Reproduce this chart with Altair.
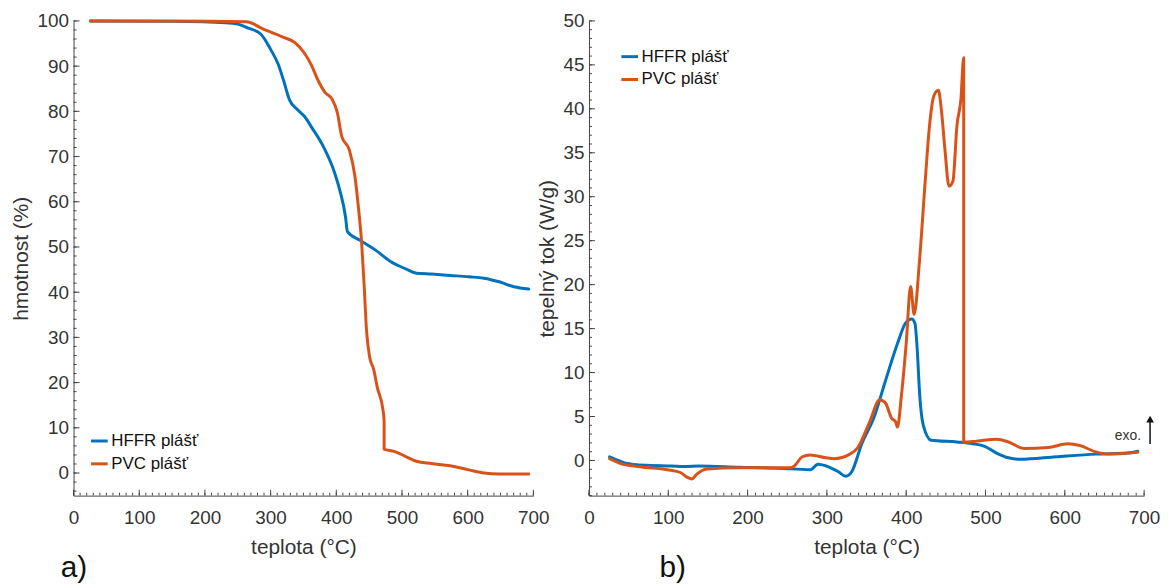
import altair as alt
import pandas as pd

FONT = "Liberation Sans"
BLUE = "#0072BD"
ORANGE = "#D95319"
AXC = "#444444"
TXT = "#333333"

series_names = ["HFFR plášť", "PVC plášť"]

# ---- a) TGA: mass (%) vs temperature ----
tga_hffr_t = [25.6, 150, 231.8, 250, 266, 285, 300, 311.6, 320, 328.6, 340, 351.4, 362.8, 380, 397,
              405.6, 414, 417, 437, 459.7, 482.5, 505, 522, 545, 573.6, 602, 625, 648, 670.4, 693]
tga_hffr_m = [100, 99.9, 99.6, 99.3, 98.4, 97.1, 93.7, 90.4, 86.7, 82.6, 80.5, 78.9, 76.4, 72.3, 66.6,
              62.4, 56.7, 53.4, 51.4, 49.3, 46.8, 45.2, 44.2, 44.0, 43.7, 43.4, 43.1, 42.3, 41.2, 40.7]
tga_pvc_t = [25.6, 150, 263, 288.8, 317, 337, 351.4, 362.8, 371.4, 382.8, 394, 401.6, 408.4, 419.8,
             428.3, 434, 438.6, 442.6, 445.4, 451, 456.8, 462.5, 471, 472.8, 472.8, 488, 505, 522, 545,
             573.6, 602, 625, 648, 693]
tga_pvc_m = [100, 100, 99.8, 98.2, 96.5, 95.2, 92.9, 90.0, 87.1, 84.2, 82.6, 79.7, 74.4, 71.5,
             65.7, 58.3, 50.9, 41.1, 32.9, 25.5, 23.0, 18.9, 14.0, 11.5, 5.3, 4.8, 3.7, 2.6, 2.1,
             1.6, 0.7, 0.0, -0.2, -0.2]

# ---- b) DSC: heat flow (W/g) vs temperature ----
dsc_hffr_t = [26, 33.5, 46, 73.6, 103.6, 121, 138.7, 188.8, 238.8, 278.9, 289, 299, 314, 324, 331.5,
              344, 359, 374, 389, 399, 407, 411, 414, 417, 421.6, 431.6, 464, 484, 499, 514, 529, 544,
              589, 639, 679, 692]
dsc_hffr_q = [0.42, 0.13, -0.3, -0.55, -0.63, -0.7, -0.63, -0.76, -0.88, -1.05, -0.42, -0.63, -1.26,
              -1.8, -1.26, 1.9, 4.8, 9.1, 13.3, 15.6, 16.1, 15.6, 12.5, 7.5, 4.0, 2.3, 2.1, 1.9, 1.6,
              0.84, 0.3, 0.13, 0.42, 0.72, 0.84, 1.05]
dsc_pvc_t = [26, 38.5, 63.6, 98.6, 116, 123.7, 129.7, 136, 148.7, 188.8, 253.9, 259, 269, 279, 299,
             309, 329, 339, 354, 366.6, 374, 381.6, 386.6, 389, 394, 400, 405.6, 410, 416.6, 424,
             429, 435, 440.6, 444, 449, 454, 459, 464, 469, 472.5, 472.5, 489, 514, 529, 549, 579,
             604, 619, 639, 654, 692]
dsc_pvc_q = [0.2, -0.3, -0.72, -1.05, -1.4, -1.9, -2.1, -1.56, -0.97, -0.84, -0.84, -0.63, 0.42, 0.63,
             0.3, 0.2, 0.72, 1.47, 4.4, 6.9, 6.5, 4.8, 4.4, 3.8, 7.4, 13.3, 19.8, 16.6, 22.5, 31.8,
             37.7, 41.5, 42.1, 40.2, 35.2, 31.2, 31.8, 38.1, 41.1, 45.8, 2.1, 2.2, 2.4, 2.1, 1.35,
             1.47, 1.9, 1.7, 0.97, 0.72, 0.93]

x_major = [0, 100, 200, 300, 400, 500, 600, 700]
x_minor = list(range(0, 701, 10))
tga_y_major = [0, 10, 20, 30, 40, 50, 60, 70, 80, 90, 100]
tga_y_minor = list(range(-4, 101, 2))
dsc_y_major = [0, 5, 10, 15, 20, 25, 30, 35, 40, 45, 50]
dsc_y_minor = list(range(-4, 51, 1))


def make_df(t1, v1, t2, v2):
    rows = []
    for name, ts, vs in [(series_names[0], t1, v1), (series_names[1], t2, v2)]:
        for i, (t, v) in enumerate(zip(ts, vs)):
            rows.append({"T": t, "v": v, "series": name, "i": i})
    return pd.DataFrame(rows)


def panel(df, ydomain, ymajor, yminor, ytitle, w, h, lx, ly, letter, letter_x, extra=None):
    xscale = alt.Scale(domain=[0, 700], nice=False, zero=False)
    yscale = alt.Scale(domain=ydomain, nice=False, zero=False)
    common = dict(grid=False, ticks=False, domainColor=AXC, domainWidth=1, labelFlush=False,
                  labelFont=FONT, labelFontSize=19, labelColor=TXT,
                  titleFont=FONT, titleFontSize=21, titleFontWeight="normal", titleColor=TXT)
    xenc = alt.X("T:Q", scale=xscale,
                 axis=alt.Axis(values=x_major, title="teplota (°C)", labelPadding=13,
                               titlePadding=9, **common))
    yenc = alt.Y("v:Q", scale=yscale,
                 axis=alt.Axis(values=ymajor, title=ytitle, labelPadding=5,
                               titlePadding=6, **common))
    color = alt.Color(
        "series:N",
        scale=alt.Scale(domain=series_names, range=[BLUE, ORANGE]),
        legend=alt.Legend(title=None, orient="none", legendX=lx, legendY=ly,
                          symbolType="stroke", symbolStrokeWidth=3, symbolSize=280,
                          labelFont=FONT, labelFontSize=17, labelColor="#111111",
                          labelOffset=2, rowPadding=5, padding=0),
    )
    lines = alt.Chart(df).mark_line(strokeWidth=3, interpolate="monotone",
                                    strokeJoin="round", strokeCap="round").encode(
        x=xenc, y=yenc, color=color, order=alt.Order("i:Q"))

    # inward-pointing axis ticks (MATLAB style)
    def xt(vals, ln):
        return alt.Chart(pd.DataFrame({"T": vals})).mark_tick(
            color=AXC, thickness=1, size=ln, opacity=1).encode(
            x=xenc, y=alt.value(h - ln / 2))

    def yt(vals, ln):
        return alt.Chart(pd.DataFrame({"v": vals})).mark_tick(
            color=AXC, thickness=1, size=ln, opacity=1).encode(
            y=yenc, x=alt.value(ln / 2))

    lab = alt.Chart(pd.DataFrame({"s": [letter]})).mark_text(
        font=FONT, fontSize=30, color="#111111", align="left", baseline="alphabetic").encode(
        text="s:N", x=alt.value(letter_x), y=alt.value(h + 82))

    layers = [xt(x_minor, 3), xt(x_major, 6), yt(yminor, 3), yt(ymajor, 6), lines, lab]
    if extra is not None:
        layers += extra
    return alt.layer(*layers).properties(width=w, height=h)


df_a = make_df(tga_hffr_t, tga_hffr_m, tga_pvc_t, tga_pvc_m)
df_b = make_df(dsc_hffr_t, dsc_hffr_q, dsc_pvc_t, dsc_pvc_q)

H = 478
exo_text = alt.Chart(pd.DataFrame({"s": ["exo."]})).mark_text(
    font=FONT, fontSize=14, color="#333333", align="right", baseline="middle").encode(
    text="s:N", x=alt.value(556), y=alt.value(418))
arrow_shaft = alt.Chart(pd.DataFrame({"a": [1]})).mark_rule(color="#111111", strokeWidth=1.5).encode(
    x=alt.value(565), y=alt.value(426), y2=alt.value(402))
arrow_head = alt.Chart(pd.DataFrame({"a": [1]})).mark_point(
    shape="triangle-up", filled=True, color="#111111", size=60, opacity=1).encode(
    x=alt.value(565), y=alt.value(401))

left = panel(df_a, [-5, 100], tga_y_major, tga_y_minor, "hmotnost (%)", 463, H,
             16, 413, "a)", -13)
right = panel(df_b, [-4, 50], dsc_y_major, dsc_y_minor, "tepelný tok (W/g)", 559, H,
              31, 26, "b)", 71, extra=[exo_text, arrow_shaft, arrow_head])

chart = alt.hconcat(left, right, spacing=56, bounds="flush").resolve_scale(
    color="independent").resolve_legend(color="independent").properties(
    padding={"left": 2, "top": 2, "right": 0, "bottom": 0},
    background="white",
).configure_view(stroke=None)

chart.save("out.html", embed_options={"renderer": "svg", "actions": False})
